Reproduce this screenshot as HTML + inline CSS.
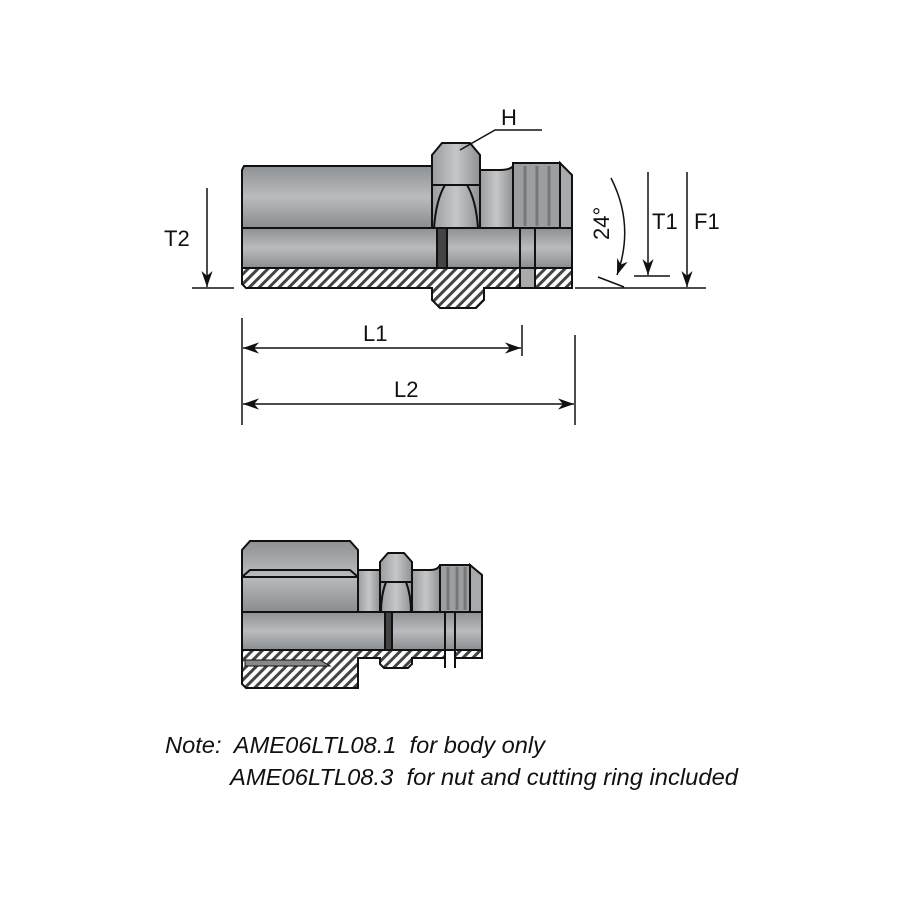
<!DOCTYPE html>
<html><head><meta charset="utf-8"><style>
html,body{margin:0;padding:0;background:#fff;width:900px;height:900px;overflow:hidden}
svg text{font-family:"Liberation Sans Narrow","Liberation Sans",sans-serif;fill:#111}
</style></head><body>
<svg width="900" height="900" viewBox="0 0 900 900" xmlns="http://www.w3.org/2000/svg">
<defs>
<pattern id="h" width="7" height="7" patternUnits="userSpaceOnUse" patternTransform="rotate(45)">
<rect width="7" height="7" fill="#fff"/><rect width="3" height="7" fill="#444"/></pattern>
<linearGradient id="g" x1="0" y1="0" x2="0" y2="1">
<stop offset="0" stop-color="#8e9194"/><stop offset="0.5" stop-color="#b9bcbf"/><stop offset="1" stop-color="#8a8d90"/></linearGradient>
<linearGradient id="gv" x1="0" y1="0" x2="1" y2="0">
<stop offset="0" stop-color="#9a9da0"/><stop offset="0.5" stop-color="#c4c7ca"/><stop offset="1" stop-color="#8f9295"/></linearGradient>
<marker id="b" viewBox="0 0 10 10" refX="10" refY="5" markerWidth="16" markerHeight="16" markerUnits="userSpaceOnUse" orient="auto-start-reverse"><path d="M0,1.5 L10,5 L0,8.5 L3,5Z" fill="#111"/></marker>
</defs>
<g stroke="#111" stroke-width="2">
<!-- TOP DRAWING -->
<path d="M244,166 H432 V228 H242 V170Z" fill="url(#g)"/>
<path d="M480,170 H500 Q510,170 513,166 V228 H480Z" fill="url(#gv)"/>
<path d="M513,163 H560 V228 H513Z" fill="#9c9fa2"/>
<g stroke="#777" stroke-width="3"><line x1="525" y1="166" x2="525" y2="226"/><line x1="537" y1="166" x2="537" y2="226"/><line x1="549" y1="166" x2="549" y2="226"/></g>
<path d="M560,163 L572,175 V228 H560Z" fill="#a8abae"/>
<path d="M432,155 L442,143 H470 L480,155 V228 H432Z" fill="url(#gv)"/>
<path d="M432,185 H480 M445,185 Q436,200 434,228 M467,185 Q476,200 478,228" fill="none"/>
<rect x="242" y="228" width="195" height="40" fill="url(#g)"/>
<rect x="437" y="228" width="10" height="40" fill="#444"/>
<rect x="447" y="228" width="125" height="40" fill="url(#g)"/>
<line x1="520" y1="228" x2="520" y2="288"/><line x1="535" y1="228" x2="535" y2="288"/>
<path d="M242,268 H437 V268 H520 V288 H484 V300 L476,308 H440 L432,300 V288 H246 L242,284Z" fill="url(#h)"/>
<path d="M535,268 H572 V288 H535Z" fill="url(#h)"/>
<rect x="520" y="268" width="15" height="20" fill="#aaa"/>
<path d="M460,150 L495,130 H542" fill="none" stroke-width="1.5"/>
<g stroke-width="1.5" fill="none">
<line x1="207" y1="188" x2="207" y2="287" marker-end="url(#b)"/>
<line x1="192" y1="288" x2="234" y2="288"/>
<line x1="575" y1="288" x2="706" y2="288"/>
<line x1="648" y1="172" x2="648" y2="275" marker-end="url(#b)"/>
<line x1="634" y1="276" x2="670" y2="276"/>
<line x1="687" y1="172" x2="687" y2="287" marker-end="url(#b)"/>
<path d="M611,178 Q635,225 617,275" marker-end="url(#b)"/>
<line x1="598" y1="277" x2="624" y2="287"/>
<line x1="242" y1="318" x2="242" y2="425"/>
<line x1="522" y1="325" x2="522" y2="356"/>
<line x1="575" y1="335" x2="575" y2="425"/>
<line x1="243" y1="348" x2="521" y2="348" marker-start="url(#b)" marker-end="url(#b)"/>
<line x1="243" y1="404" x2="574" y2="404" marker-start="url(#b)" marker-end="url(#b)"/>
</g>
<!-- BOTTOM DRAWING -->
<path d="M358,570 H380 V612 H358Z" fill="url(#gv)"/>
<path d="M412,570 H430 Q438,570 440,565 V612 H412Z" fill="url(#gv)"/>
<path d="M440,565 H470 V612 H440Z" fill="#9c9fa2"/>
<g stroke="#777" stroke-width="3"><line x1="448" y1="567" x2="448" y2="610"/><line x1="457" y1="567" x2="457" y2="610"/><line x1="465" y1="567" x2="465" y2="610"/></g>
<path d="M470,565 L482,575 V612 H470Z" fill="#a8abae"/>
<path d="M250,541 H350 L358,550 V612 H242 V550Z" fill="url(#g)"/>
<path d="M242,577 L250,570 H350 L358,577 M242,577 H358" fill="none"/>
<path d="M380,562 L388,553 H404 L412,562 V612 H380Z" fill="url(#gv)"/>
<path d="M380,582 H412 M386,582 Q381,595 381,612 M406,582 Q411,595 411,612" fill="none"/>
<rect x="242" y="612" width="143" height="38" fill="url(#g)"/>
<rect x="385" y="612" width="7" height="38" fill="#444"/>
<rect x="392" y="612" width="90" height="38" fill="url(#g)"/>
<line x1="445" y1="612" x2="445" y2="668"/><line x1="455" y1="612" x2="455" y2="668"/>
<path d="M242,650 H445 V658 H412 V664 L408,668 H384 L380,664 V658 H358 V688 H246 L242,684Z" fill="url(#h)"/>
<path d="M245,660 H320 L330,666 H245Z" fill="#888" stroke-width="1"/>
<path d="M455,650 H482 V658 H455Z" fill="url(#h)"/>
</g>
<text x="501" y="125" font-size="22">H</text>
<text x="164" y="246" font-size="22">T2</text>
<text x="652" y="229" font-size="22">T1</text>
<text x="694" y="229" font-size="22">F1</text>
<text x="0" y="0" font-size="22" transform="translate(609,240) rotate(-90)">24°</text>
<text x="363" y="341" font-size="22">L1</text>
<text x="394" y="397" font-size="22">L2</text>
<text x="165" y="753" font-size="23" font-style="italic" textLength="380" lengthAdjust="spacingAndGlyphs" style="white-space:pre" xml:space="preserve">Note:  AME06LTL08.1  for body only</text>
<text x="230" y="785" font-size="23" font-style="italic" textLength="508" lengthAdjust="spacingAndGlyphs" style="white-space:pre" xml:space="preserve">AME06LTL08.3  for nut and cutting ring included</text>
</svg>
</body></html>
